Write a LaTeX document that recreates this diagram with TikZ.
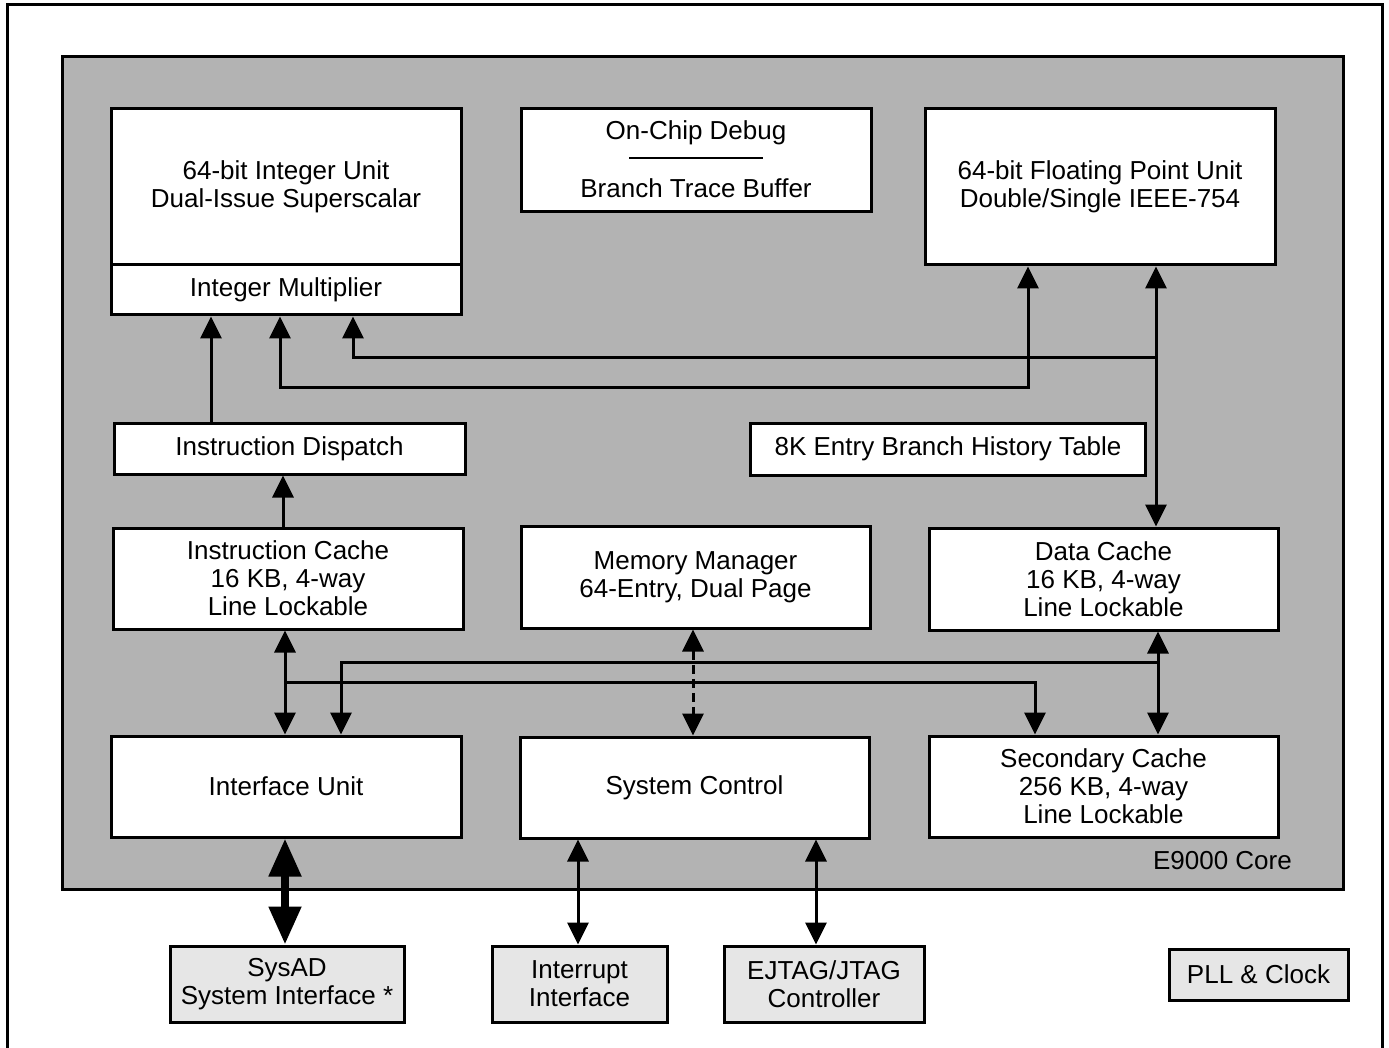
\documentclass[tikz,border=0pt]{standalone}
\usepackage{fontspec}
\setmainfont{Liberation Sans}
\usetikzlibrary{arrows.meta}
\definecolor{coregray}{HTML}{B3B3B3}
\definecolor{extgray}{HTML}{E6E6E6}
\begin{document}
\begin{tikzpicture}[x=1pt,y=-1pt,
  >={Triangle[length=22pt,width=21pt]},
  blk/.style={draw, line width=3pt, fill=white, inner sep=0pt, align=center,
    font=\fontsize{26}{28}\selectfont},
  extblk/.style={blk, fill=extgray},
  conn/.style={line width=3pt},
  bigconn/.style={line width=8pt, >={Triangle[length=38pt,width=31pt]}},
  txt/.style={inner sep=0pt, font=\fontsize{26}{28}\selectfont}
]
\useasboundingbox (0,0) rectangle (1389,1048);
\clip (0,0) rectangle (1389,1048);
\fill[white] (0,0) rectangle (1389,1048);
% outer frame and core
\draw[line width=3pt] (7,5) rectangle (1382,1080);
\draw[line width=3pt, fill=coregray] (62,57) rectangle (1343,889);
% blocks
\node[blk, minimum width=350pt, minimum height=156pt] (iu) at (286,187) {64-bit Integer Unit\\Dual-Issue Superscalar};
\node[blk, minimum width=350pt, minimum height=50pt] (im) at (286,290) {Integer Multiplier};
\node[blk, minimum width=350pt, minimum height=103pt] (dbg) at (696,160.5) {};
\node[txt] (dbgA) at (696,133) {On-Chip Debug};
\node[txt] (dbgB) at (696,188) {Branch Trace Buffer};
\coordinate (dl1) at (629,158);
\coordinate (dl2) at (763,158);
\draw[line width=2.5pt] (dl1) -- (dl2);
\node[blk, minimum width=350pt, minimum height=156pt] (fpu) at (1100,187) {64-bit Floating Point Unit\\Double/Single IEEE-754};
\node[blk, minimum width=351pt, minimum height=51pt] (disp) at (289.5,448.5) {Instruction Dispatch};
\node[blk, minimum width=395pt, minimum height=52pt] (bht) at (948,449) {8K Entry Branch History Table};
\node[blk, minimum width=350pt, minimum height=101pt] (ic) at (288,578.5) {Instruction Cache\\16 KB, 4-way\\Line Lockable};
\node[blk, minimum width=349pt, minimum height=102pt] (mm) at (695.5,577) {Memory Manager\\64-Entry, Dual Page};
\node[blk, minimum width=349pt, minimum height=102pt] (dc) at (1103.5,579) {Data Cache\\16 KB, 4-way\\Line Lockable};
\node[blk, minimum width=350pt, minimum height=101pt] (ifu) at (286,786.5) {Interface Unit};
\node[blk, minimum width=349pt, minimum height=101pt] (sc) at (694.5,787.5) {System Control};
\node[blk, minimum width=349pt, minimum height=101pt] (l2) at (1103.5,786.5) {Secondary Cache\\256 KB, 4-way\\Line Lockable};
\node[txt, anchor=east] (core) at (1292,861) {E9000 Core};
% external blocks
\node[extblk, minimum width=234pt, minimum height=76pt] (sysad) at (287,984) {SysAD\\System Interface *};
\node[extblk, minimum width=175pt, minimum height=76pt] (intr) at (579.5,984) {Interrupt\\Interface};
\node[extblk, minimum width=200pt, minimum height=76pt] (ejtag) at (824,984) {EJTAG/JTAG\\Controller};
\node[extblk, minimum width=179pt, minimum height=51pt] (pll) at (1258.5,974.5) {PLL \& Clock};
% columns and rows
\coordinate (cA) at (211,0);
\coordinate (cB) at (280,0);
\coordinate (cC) at (353,0);
\coordinate (cD) at (1028,0);
\coordinate (cE) at (1156,0);
\coordinate (cF) at (285,0);
\coordinate (cG) at (341,0);
\coordinate (cH) at (693,0);
\coordinate (cI) at (1035,0);
\coordinate (cJ) at (1158,0);
\coordinate (cK) at (578,0);
\coordinate (cL) at (816,0);
\coordinate (cM) at (283,0);
\coordinate (r1) at (0,358);
\coordinate (r2) at (0,387);
\coordinate (r3) at (0,662);
\coordinate (r4) at (0,682);
% connectors
\draw[conn,->] (ic.north -| cM) -- (disp.south -| cM);
\draw[conn,->] (disp.north -| cA) -- (im.south -| cA);
\draw[conn,<->] (fpu.south -| cE) -- (dc.north -| cE);
\draw[conn,->] (cE |- r1) -| (im.south -| cC);
\draw[conn,<->] (im.south -| cB) |- (cD |- r2) -- (fpu.south -| cD);
\draw[conn,<->] (ic.south -| cF) -- (ifu.north -| cF);
\draw[conn,<->,dash pattern=on 9pt off 5pt] (mm.south -| cH) -- (sc.north -| cH);
\draw[conn,<->] (dc.south -| cJ) -- (l2.north -| cJ);
\draw[conn,->] (cJ |- r3) -| (ifu.north -| cG);
\draw[conn,->] (cF |- r4) -| (l2.north -| cI);
\draw[bigconn,<->] (ifu.south -| cF) -- (sysad.north -| cF);
\draw[conn,<->] (sc.south -| cK) -- (intr.north -| cK);
\draw[conn,<->] (sc.south -| cL) -- (ejtag.north -| cL);
\end{tikzpicture}
\end{document}
